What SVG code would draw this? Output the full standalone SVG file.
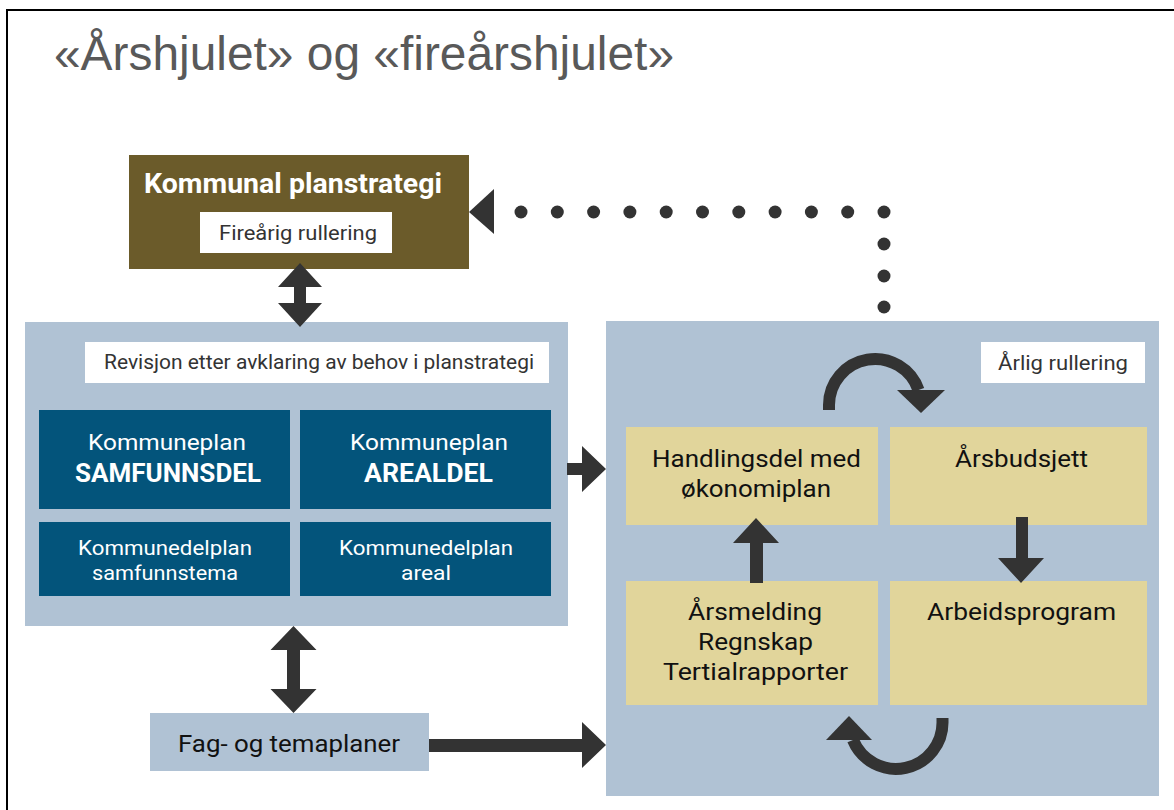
<svg xmlns="http://www.w3.org/2000/svg" width="1174" height="810" viewBox="0 0 1174 810">
  <style>
    .t { font-family: Roboto, "Liberation Sans", sans-serif; }
    .lbl { fill: #ffffff; }
    .lbltx { fill: #333333; font-size: 20px; }
    .blue { fill: #03547b; }
    .panel { fill: #b0c2d4; }
    .yel { fill: #e1d59b; }
    .wt { fill: #ffffff; }
    .yt { fill: #111111; font-size: 23px; font-weight: 400; }
    .arr { fill: #333333; }
  </style>
  <rect x="0" y="0" width="1174" height="810" fill="#ffffff"/>
  <path d="M7,810 V10 H1174" fill="none" stroke="#000000" stroke-width="2"/>
  <text x="54" y="70" font-family="'Liberation Sans', Arial, sans-serif" font-size="48" fill="#595959" textLength="620" lengthAdjust="spacingAndGlyphs">«Årshjulet» og «fireårshjulet»</text>

  <g id="kommunal-planstrategi">
    <rect x="129" y="155" width="340" height="114" fill="#6b5b2a"/>
    <text class="t" x="144" y="193" font-size="27" font-weight="700" fill="#ffffff" textLength="298" lengthAdjust="spacingAndGlyphs">Kommunal planstrategi</text>
    <rect class="lbl" x="200" y="212" width="192" height="41"/>
    <text class="t lbltx" x="219" y="240" textLength="158" lengthAdjust="spacingAndGlyphs">Fireårig rullering</text>
  </g>

  <g id="kommuneplan-panel">
    <rect class="panel" x="25" y="322" width="543" height="304"/>
    <rect class="lbl" x="85" y="342" width="464" height="41"/>
    <text class="t lbltx" x="104" y="369" textLength="430" lengthAdjust="spacingAndGlyphs">Revisjon etter avklaring av behov i planstrategi</text>
  </g>
  <g id="samfunnsdel">
    <rect class="blue" x="39" y="410" width="251" height="99"/>
    <text class="t wt" x="88" y="450" font-size="22" textLength="158" lengthAdjust="spacingAndGlyphs">Kommuneplan</text>
    <text class="t wt" x="75" y="482" font-size="25" font-weight="700" textLength="186" lengthAdjust="spacingAndGlyphs">SAMFUNNSDEL</text>
  </g>
  <g id="arealdel">
    <rect class="blue" x="300" y="410" width="251" height="99"/>
    <text class="t wt" x="350" y="450" font-size="22" textLength="158" lengthAdjust="spacingAndGlyphs">Kommuneplan</text>
    <text class="t wt" x="364" y="482" font-size="25" font-weight="700" textLength="129" lengthAdjust="spacingAndGlyphs">AREALDEL</text>
  </g>
  <g id="kdp-samfunnstema">
    <rect class="blue" x="39" y="522" width="251" height="74"/>
    <text class="t wt" x="78" y="555" font-size="20" textLength="174" lengthAdjust="spacingAndGlyphs">Kommunedelplan</text>
    <text class="t wt" x="92" y="580" font-size="20" textLength="146" lengthAdjust="spacingAndGlyphs">samfunnstema</text>
  </g>
  <g id="kdp-areal">
    <rect class="blue" x="300" y="522" width="251" height="74"/>
    <text class="t wt" x="339" y="555" font-size="20" textLength="174" lengthAdjust="spacingAndGlyphs">Kommunedelplan</text>
    <text class="t wt" x="401" y="580" font-size="20" textLength="50" lengthAdjust="spacingAndGlyphs">areal</text>
  </g>

  <g id="handlingsdel-panel">
    <rect class="panel" x="606" y="321" width="553" height="475"/>
    <rect class="lbl" x="981" y="342" width="164" height="41"/>
    <text class="t lbltx" x="998" y="370" textLength="130" lengthAdjust="spacingAndGlyphs">Årlig rullering</text>
  </g>
  <g id="handlingsdel">
    <rect class="yel" x="626" y="427" width="252" height="98"/>
    <text class="t yt" x="652" y="467" textLength="209" lengthAdjust="spacingAndGlyphs">Handlingsdel med</text>
    <text class="t yt" x="681" y="497" textLength="150" lengthAdjust="spacingAndGlyphs">økonomiplan</text>
  </g>
  <g id="arsbudsjett">
    <rect class="yel" x="890" y="427" width="257" height="98"/>
    <text class="t yt" x="955" y="467" textLength="133" lengthAdjust="spacingAndGlyphs">Årsbudsjett</text>
  </g>
  <g id="arsmelding">
    <rect class="yel" x="626" y="581" width="252" height="124"/>
    <text class="t yt" x="688" y="620" textLength="134" lengthAdjust="spacingAndGlyphs">Årsmelding</text>
    <text class="t yt" x="698" y="650" textLength="115" lengthAdjust="spacingAndGlyphs">Regnskap</text>
    <text class="t yt" x="663" y="680" textLength="185" lengthAdjust="spacingAndGlyphs">Tertialrapporter</text>
  </g>
  <g id="arbeidsprogram">
    <rect class="yel" x="890" y="581" width="257" height="124"/>
    <text class="t yt" x="927" y="620" textLength="189" lengthAdjust="spacingAndGlyphs">Arbeidsprogram</text>
  </g>

  <g id="fag-og-temaplaner">
    <rect class="panel" x="150" y="713" width="279" height="58"/>
    <text class="t" x="178" y="752" font-size="24" font-weight="400" fill="#111111" textLength="222" lengthAdjust="spacingAndGlyphs">Fag- og temaplaner</text>
  </g>

  <g id="connectors">
    <polygon class="arr" points="300,263 322,287 306,287 306,303 322,303 300,327 278,303 294,303 294,287 278,287"/>
    <polygon class="arr" points="293.5,626 316.5,650 300,650 300,689 316.5,689 293.5,713 270.5,689 287,689 287,650 270.5,650"/>
    <polygon class="arr" points="567,463 582,463 582,446 606,469 582,492 582,475 567,475"/>
    <polygon class="arr" points="429,739 582,739 582,722 606,745 582,768 582,752 429,752"/>
    <polygon class="arr" points="750,583 750,543 733,543 756,518 779,543 763,543 763,583"/>
    <polygon class="arr" points="1016,517 1028,517 1028,558 1044,558 1021,583 998,558 1016,558"/>
    <path d="M829,410 V405 A46,46 0 0 1 918.5,390" fill="none" stroke="#333333" stroke-width="12"/>
    <polygon class="arr" points="897,390 945,390 921,413"/>
    <path d="M942.5,718 V721 A46.5,46.5 0 0 1 853,740" fill="none" stroke="#333333" stroke-width="12"/>
    <polygon class="arr" points="826,740 872,740 849,716"/>
    <polygon class="arr" points="469,212 494,189 494,234"/>
    <g class="arr">
      <circle cx="521" cy="212" r="6.5"/>
      <circle cx="557.3" cy="212" r="6.5"/>
      <circle cx="593.6" cy="212" r="6.5"/>
      <circle cx="629.9" cy="212" r="6.5"/>
      <circle cx="666.2" cy="212" r="6.5"/>
      <circle cx="702.5" cy="212" r="6.5"/>
      <circle cx="738.8" cy="212" r="6.5"/>
      <circle cx="775.1" cy="212" r="6.5"/>
      <circle cx="811.4" cy="212" r="6.5"/>
      <circle cx="847.7" cy="212" r="6.5"/>
      <circle cx="884" cy="212" r="6.5"/>
      <circle cx="884" cy="244" r="6.5"/>
      <circle cx="884" cy="276" r="6.5"/>
      <circle cx="884" cy="307" r="6.5"/>
    </g>
  </g>
</svg>
